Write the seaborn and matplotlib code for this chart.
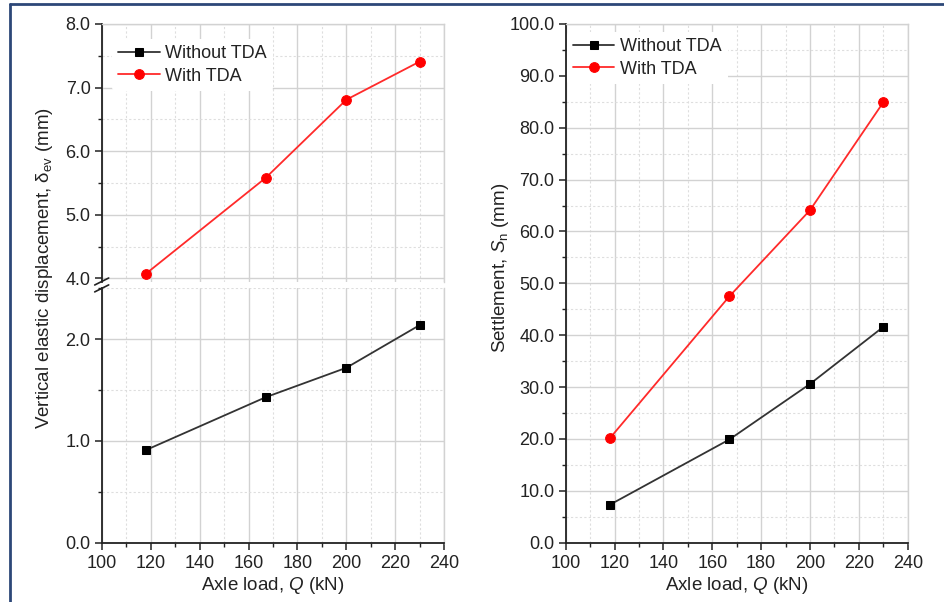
import matplotlib
matplotlib.use("Agg")
import matplotlib.pyplot as plt
from matplotlib.lines import Line2D
from matplotlib.ticker import MultipleLocator, FormatStrFormatter
import seaborn as sns

# ---------------- data ----------------
axle_load = [118, 167, 200, 230]
disp_without_tda = [0.91, 1.43, 1.72, 2.14]
disp_with_tda = [4.07, 5.58, 6.81, 7.41]
settle_without_tda = [7.3, 19.9, 30.6, 41.6]
settle_with_tda = [20.1, 47.5, 64.1, 84.9]
series_names = ["Without TDA", "With TDA"]
x_label = "Axle load, $Q$ (kN)"
y_label_left = "Vertical elastic displacement, δ$_{\\mathregular{ev}}$ (mm)"
y_label_right = "Settlement, $S_\\mathregular{n}$ (mm)"

# ---------------- style ----------------
sns.set_theme(style="white")
plt.rcParams["font.family"] = ["Liberation Sans", "DejaVu Sans"]
plt.rcParams["mathtext.fontset"] = "custom"
plt.rcParams["mathtext.rm"] = "Liberation Sans"
plt.rcParams["mathtext.it"] = "Liberation Sans:italic"

W, H = 944, 602
fig = plt.figure(figsize=(W / 100, H / 100), dpi=100)
fig.patch.set_facecolor("white")


def fx(px):
    return px / W


def fy(py):
    return 1 - py / H


GRID_MAJ = "#d2d2d2"
GRID_MIN = "#dedede"
TICK_FS = 13
LABEL_FS = 13.5
LEG_FS = 13


def style_axes(ax, ymajor, yminor, show_x=True, top_spine=True, bottom_spine=True):
    ax.set_facecolor("white")
    ax.set_xlim(100, 240)
    ax.xaxis.set_major_locator(MultipleLocator(20))
    ax.xaxis.set_minor_locator(MultipleLocator(10))
    ax.yaxis.set_major_locator(MultipleLocator(ymajor))
    ax.yaxis.set_minor_locator(MultipleLocator(yminor))
    ax.yaxis.set_major_formatter(FormatStrFormatter("%.1f"))
    ax.grid(True, which="major", color=GRID_MAJ, lw=1.0, ls="-")
    ax.grid(True, which="minor", color=GRID_MIN, lw=0.8, ls=(0, (2, 2)))
    ax.set_axisbelow(True)
    for s in ["left", "bottom"]:
        ax.spines[s].set_color("#222222")
        ax.spines[s].set_linewidth(1.3)
    for s in ["top", "right"]:
        ax.spines[s].set_color(GRID_MAJ)
        ax.spines[s].set_linewidth(1.0)
    ax.spines["top"].set_visible(top_spine)
    ax.spines["bottom"].set_visible(bottom_spine)
    ax.tick_params(axis="y", which="major", direction="out", length=5, width=1.1,
                   color="#222222", left=True, right=False, labelsize=TICK_FS,
                   labelcolor="#222222", pad=3)
    ax.tick_params(axis="y", which="minor", direction="out", length=3, width=1.0,
                   color="#222222", left=True, right=False)
    ax.tick_params(axis="x", which="major", direction="out", length=5, width=1.1,
                   color="#222222", bottom=show_x, top=False, labelbottom=show_x,
                   labelsize=TICK_FS, labelcolor="#222222", pad=4)
    ax.tick_params(axis="x", which="minor", direction="out", length=3, width=1.0,
                   color="#222222", bottom=show_x, top=False)
    ax.set_xlabel("")
    ax.set_ylabel("")


def draw_series(ax, y, kind):
    if kind == 0:
        sns.lineplot(x=axle_load, y=y, ax=ax, color="#333333", lw=1.3, marker="s",
                     markersize=6, markerfacecolor="black", markeredgecolor="black",
                     legend=False, zorder=3)
    else:
        sns.lineplot(x=axle_load, y=y, ax=ax, color="#ff2a2a", lw=1.3, marker="o",
                     markersize=7, markerfacecolor="#ff0000", markeredgecolor="#ff0000",
                     legend=False, zorder=3)
    return ax.get_lines()[-1]


# ---------------- left panel (broken y axis) ----------------
L_left, L_right = 101.7, 444.3
top_top, top_bot = 24.0, 281.5
bot_top, bot_bot = 288.4, 542.7

ax_top = fig.add_axes([fx(L_left), fy(top_bot), fx(L_right - L_left), (top_bot - top_top) / H])
ax_bot = fig.add_axes([fx(L_left), fy(bot_bot), fx(L_right - L_left), (bot_bot - bot_top) / H])

h_with = draw_series(ax_top, disp_with_tda, 1)
h_without = draw_series(ax_bot, disp_without_tda, 0)

ax_top.set_ylim(3.95, 8.0)
ax_bot.set_ylim(0.0, 2.5)
style_axes(ax_top, 1.0, 0.5, show_x=False, bottom_spine=False)
style_axes(ax_bot, 1.0, 0.5, show_x=True, top_spine=False)

# break marks on the left spine
for yb in [top_bot, bot_top]:
    fig.add_artist(Line2D([fx(L_left - 7), fx(L_left + 7)], [fy(yb + 3.5), fy(yb - 3.5)],
                          color="#222222", lw=1.2))

leg_kw = dict(frameon=True, facecolor="white", edgecolor="none", framealpha=1.0,
              fontsize=LEG_FS, handlelength=2.3, handletextpad=0.3, labelspacing=0.3,
              borderpad=0.35, loc="upper left", borderaxespad=0)
leg = ax_top.legend([h_without, h_with], series_names,
                    bbox_to_anchor=(fx(112), fy(39)), bbox_transform=fig.transFigure, **leg_kw)
leg.set_zorder(2.5)
for t in leg.get_texts():
    t.set_color("#222222")

fig.text(fx(45), fy(268), y_label_left, rotation=90, ha="center", va="center",
         fontsize=LABEL_FS, color="#222222")
fig.text(fx((L_left + L_right) / 2), fy(586), x_label, ha="center", va="center",
         fontsize=LABEL_FS, color="#222222")

# ---------------- right panel ----------------
R_left, R_right = 565.7, 907.7
ax_r = fig.add_axes([fx(R_left), fy(bot_bot), fx(R_right - R_left), (bot_bot - top_top) / H])
h2_without = draw_series(ax_r, settle_without_tda, 0)
h2_with = draw_series(ax_r, settle_with_tda, 1)
ax_r.set_ylim(0, 100)
style_axes(ax_r, 10.0, 5.0, show_x=True)
leg2 = ax_r.legend([h2_without, h2_with], series_names,
                   bbox_to_anchor=(fx(566.5), fy(32)), bbox_transform=fig.transFigure, **leg_kw)
leg2.set_zorder(2.5)
for t in leg2.get_texts():
    t.set_color("#222222")

fig.text(fx(500), fy(268), y_label_right, rotation=90, ha="center", va="center",
         fontsize=LABEL_FS, color="#222222")
fig.text(fx((R_left + R_right) / 2), fy(586), x_label, ha="center", va="center",
         fontsize=LABEL_FS, color="#222222")

# ---------------- frame border (cropped box) ----------------
BORDER = "#2d4778"
fig.add_artist(Line2D([fx(10), fx(10)], [fy(4), 0], color=BORDER, lw=2.0))
fig.add_artist(Line2D([fx(10), 1], [fy(4), fy(4)], color=BORDER, lw=2.0))

fig.savefig("out.png", dpi=100, facecolor="white")
